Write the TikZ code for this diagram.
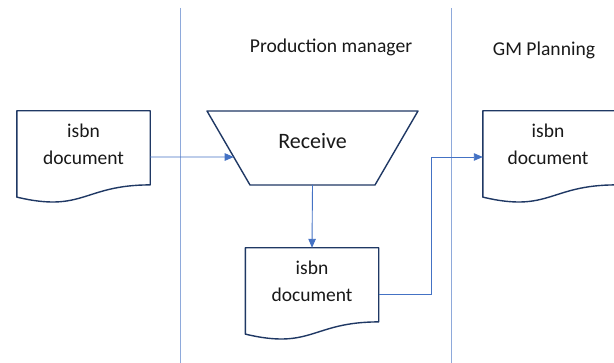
\documentclass[tikz,border=0pt]{standalone}
\usepackage{fontspec}
\setmainfont{Carlito}
\usetikzlibrary{calc,arrows.meta}
\definecolor{conn}{HTML}{4472C4}
\definecolor{lane}{HTML}{8EA9DB}
\definecolor{outl}{HTML}{1F3864}
\tikzset{
  docbox/.style={minimum width=133pt,minimum height=92pt,inner sep=0pt,draw=none},
  doctext/.style={align=center,font=\fontsize{19.5}{27}\selectfont,text=black!90},
  outline/.style={draw=outl,line width=1.4pt,fill=white,line join=round},
  lanesep/.style={draw=lane,line width=1pt},
  connector/.style={draw=conn,line width=0.9pt},
  arrowconn/.style={connector,-{Triangle[length=9pt,width=7.5pt]}},
  heading/.style={font=\fontsize{19.6}{23}\selectfont,text=black!90}
}
\newcommand\docoutline[1]{%
  \path[outline] (#1.north west) -- (#1.north east)
    -- ($(#1.north east)!0.802!(#1.south east)$)
    .. controls ($(#1.north)!0.802!(#1.south)$) and ($(#1.north)!1.107!(#1.south)$)
    .. ($(#1.north west)!0.934!(#1.south west)$) -- cycle;}
\begin{document}
\begin{tikzpicture}[x=1pt,y=-1pt]
\useasboundingbox (0,0) rectangle (614,363);
% lanes
\coordinate (l1t) at (180,8);
\coordinate (l1b) at (180,363);
\coordinate (l2t) at (451,8);
\coordinate (l2b) at (451,363);
\draw[lanesep] (l1t) -- (l1b);
\draw[lanesep] (l2t) -- (l2b);
\node[heading] (h1) at (331,47) {Production manager};
\node[heading] (h2) at (544,50) {GM Planning};
% documents
\node[docbox] (d1) at (83.5,157) {};
\docoutline{d1}
\node[doctext] (t1) at (83.5,144) {isbn\\document};
\node[docbox] (d2) at (312,294) {};
\docoutline{d2}
\node[doctext] (t2) at (312,281) {isbn\\document};
\node[docbox] (d3) at (549.5,157) {};
\docoutline{d3}
\node[doctext] (t3) at (548,144) {isbn\\document};
% trapezoid
\coordinate (tl) at (207,111);
\coordinate (tr) at (418,111);
\coordinate (br) at (375,185);
\coordinate (bl) at (250,185);
\path[outline] (tl) -- (tr) -- (br) -- (bl) -- cycle;
\node[font=\fontsize{22}{26}\selectfont,text=black!90] (rcv) at (312.5,141) {Receive};
\coordinate (rin) at ($(tl)!0.622!(bl)$);
\coordinate (rout) at ($(bl)!0.5!(br)$);
% connectors
\draw[arrowconn] (d1.east) -- (rin);
\draw[arrowconn] (rout) -- (d2.north);
\coordinate (j) at (431,157);
\draw[arrowconn] (d2.east) -| (j) -- (d3.west);
\end{tikzpicture}
\end{document}
